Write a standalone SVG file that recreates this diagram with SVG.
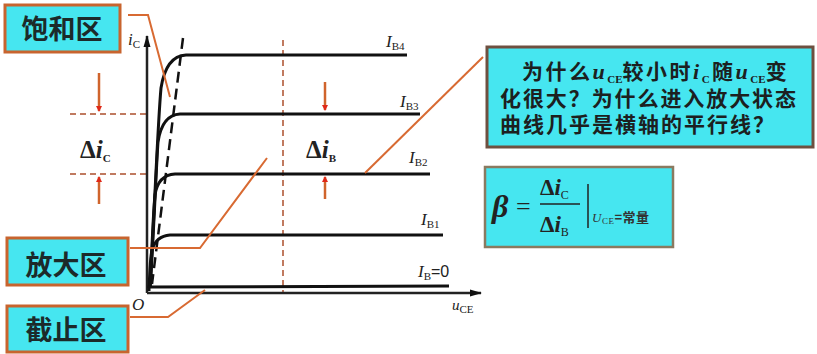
<svg xmlns="http://www.w3.org/2000/svg" width="817" height="354" viewBox="0 0 817 354">
<defs>
<style>
.box{fill:#46e6f0;stroke:#c8642e;stroke-width:3}
.qbox{fill:#46e6f0;stroke:#6e5040;stroke-width:3}
.bbox{fill:#46e6f0;stroke:#8a7a60;stroke-width:2.5}
.lbl{font-family:"Noto Sans CJK SC","Noto Serif CJK SC",sans-serif;font-weight:bold;font-size:27px;fill:#1c2a2a}
.q{font-family:"Noto Sans CJK SC",sans-serif;font-weight:bold;font-size:21px;fill:#1c2020}
.it{font-family:"Liberation Serif",serif;font-style:italic}
.sub{font-family:"Liberation Serif",serif;font-style:normal;font-size:11px}
.curve{fill:none;stroke:#111;stroke-width:3}
.axis{fill:none;stroke:#222;stroke-width:2.5}
.conn{fill:none;stroke:#d86a32;stroke-width:2}
.odash{fill:none;stroke:#c07a60;stroke-width:2;stroke-dasharray:6 4}
.bdash{fill:none;stroke:#111;stroke-width:2.5;stroke-dasharray:11 6}
.arr{fill:none;stroke:#d0642c;stroke-width:2.5}
.ib{font-family:"Liberation Serif",serif;font-style:italic;font-size:17px;fill:#222}
.dl{font-family:"Liberation Serif",serif;font-weight:bold;font-size:25px;fill:#222}
</style>
<marker id="ah" markerWidth="6" markerHeight="6" refX="5" refY="3" orient="auto" markerUnits="userSpaceOnUse">
<path d="M0,0 L6,3 L0,6 Z" fill="#e02818"/>
</marker>
<marker id="ax" markerWidth="12" markerHeight="8" refX="11" refY="4" orient="auto" markerUnits="userSpaceOnUse">
<path d="M0,0.5 L12,4 L0,7.5 Z" fill="#111"/>
</marker>
</defs>
<rect width="817" height="354" fill="#ffffff"/>

<g id="guides">
<line class="odash" x1="283" y1="40" x2="283" y2="292"/>
<line class="odash" x1="70" y1="114" x2="147" y2="114"/>
<line class="odash" x1="70" y1="174" x2="147" y2="174"/>
<line class="bdash" x1="183" y1="38" x2="152" y2="284"/>
</g>

<g id="axes">
<line class="axis" x1="147" y1="293" x2="147" y2="36" marker-end="url(#ax)"/>
<line class="axis" x1="147" y1="293" x2="481" y2="293" marker-end="url(#ax)"/>
<text class="it" x="128" y="45" font-size="17" fill="#222">i<tspan class="sub" dy="3">C</tspan></text>
<text class="it" x="132" y="310" font-size="17" fill="#222">O</text>
<text class="it" x="452" y="310" font-size="15" fill="#222">u<tspan class="sub" dy="3">CE</tspan></text>
</g>

<g id="curves">
<path class="curve" d="M150 288 C155 200,158 120,161 88 Q166 56,186 55 L407 55"/>
<path class="curve" d="M150 288 C154 230,156 170,158 142 Q162 115,180 114 L420 114"/>
<path class="curve" d="M150 288 C152 250,153 215,155 195 Q158 175,175 174 L430 174"/>
<path class="curve" d="M149 288 C150 272,150 258,152 250 Q156 236,170 235 L443 235"/>
<path class="curve" d="M149 291 L149 287 L449 286"/>
<text class="ib" x="386" y="47">I<tspan class="sub" dy="3" font-size="9">B4</tspan></text>
<text class="ib" x="400" y="107">I<tspan class="sub" dy="3" font-size="9">B3</tspan></text>
<text class="ib" x="409" y="163">I<tspan class="sub" dy="3" font-size="9">B2</tspan></text>
<text class="ib" x="421" y="225">I<tspan class="sub" dy="3" font-size="9">B1</tspan></text>
<text class="ib" x="418" y="277">I<tspan class="sub" dy="3" font-size="9">B</tspan><tspan dy="-3" font-style="normal" font-family="Liberation Sans, sans-serif" font-size="16">=0</tspan></text>
</g>

<g id="delta-ic">
<line class="arr" x1="99" y1="73" x2="99" y2="111" marker-end="url(#ah)"/>
<line class="arr" x1="99" y1="204" x2="99" y2="177" marker-end="url(#ah)"/>
<text class="dl" x="80" y="158">Δ<tspan font-style="italic">i</tspan><tspan class="sub" dy="4" font-size="13">C</tspan></text>
</g>
<g id="delta-ib">
<line class="arr" x1="325" y1="82" x2="325" y2="110" marker-end="url(#ah)"/>
<line class="arr" x1="325" y1="199" x2="325" y2="177" marker-end="url(#ah)"/>
<text class="dl" x="306" y="158">Δ<tspan font-style="italic">i</tspan><tspan class="sub" dy="4" font-size="13">B</tspan></text>
</g>

<g id="connectors">
<polyline class="conn" points="128,15 148,15 170,97"/>
<polyline class="conn" points="130,248 200,248 267,158"/>
<polyline class="conn" points="130,317 168,317 205,290"/>
<line class="conn" x1="365" y1="173" x2="483" y2="57"/>
</g>

<g id="saturation">
<rect class="box" x="5" y="5" width="115" height="47"/>
<text class="lbl" x="62" y="39" text-anchor="middle">饱和区</text>
</g>
<g id="amplify">
<rect class="box" x="7" y="238" width="121" height="47"/>
<text class="lbl" x="66" y="275" text-anchor="middle">放大区</text>
</g>
<g id="cutoff">
<rect class="box" x="7" y="306" width="121" height="46"/>
<text class="lbl" x="66" y="340" text-anchor="middle">截止区</text>
</g>

<g id="question">
<rect class="qbox" x="487" y="47" width="326" height="100"/>
<text class="q" x="522" y="79" letter-spacing="2.5">为什么<tspan class="it" font-weight="bold" font-size="22">u</tspan><tspan class="sub" font-weight="bold" dy="4" letter-spacing="0">CE</tspan><tspan dy="-4">较小时</tspan><tspan class="it" font-weight="bold" font-size="22">i</tspan><tspan class="sub" font-weight="bold" dy="4">C</tspan><tspan dy="-4">随</tspan><tspan class="it" font-weight="bold" font-size="22">u</tspan><tspan class="sub" font-weight="bold" dy="4" letter-spacing="0">CE</tspan><tspan dy="-4">变</tspan></text>
<text class="q" x="500" y="106" textLength="296" lengthAdjust="spacing">化很大？为什么进入放大状态</text>
<text class="q" x="500" y="132" textLength="274" lengthAdjust="spacing">曲线几乎是横轴的平行线？</text>
</g>

<g id="beta">
<rect class="bbox" x="485" y="167" width="188" height="80"/>
<text x="492" y="217" font-family="Liberation Serif, serif" font-style="italic" font-weight="bold" font-size="32" fill="#222">β</text>
<text x="516" y="215" font-family="Liberation Serif, serif" font-size="26" fill="#222">=</text>
<text x="540" y="195" font-family="Liberation Serif, serif" font-weight="bold" font-size="23" fill="#222">Δ<tspan font-style="italic">i</tspan><tspan font-size="12" font-weight="normal" dy="4">C</tspan></text>
<line x1="540" y1="204" x2="580" y2="204" stroke="#222" stroke-width="1.5"/>
<text x="540" y="232" font-family="Liberation Serif, serif" font-weight="bold" font-size="23" fill="#222">Δ<tspan font-style="italic">i</tspan><tspan font-size="12" font-weight="normal" dy="4">B</tspan></text>
<line x1="588" y1="184" x2="588" y2="228" stroke="#222" stroke-width="1.5"/>
<text x="592" y="222" font-family="Liberation Serif, serif" font-size="13" fill="#333" letter-spacing="0.5"><tspan font-style="italic">U</tspan><tspan font-size="9" dy="2">CE</tspan><tspan dy="-2" font-family="Noto Sans CJK SC, sans-serif" font-size="13" font-weight="bold">=常量</tspan></text>
</g>
</svg>
